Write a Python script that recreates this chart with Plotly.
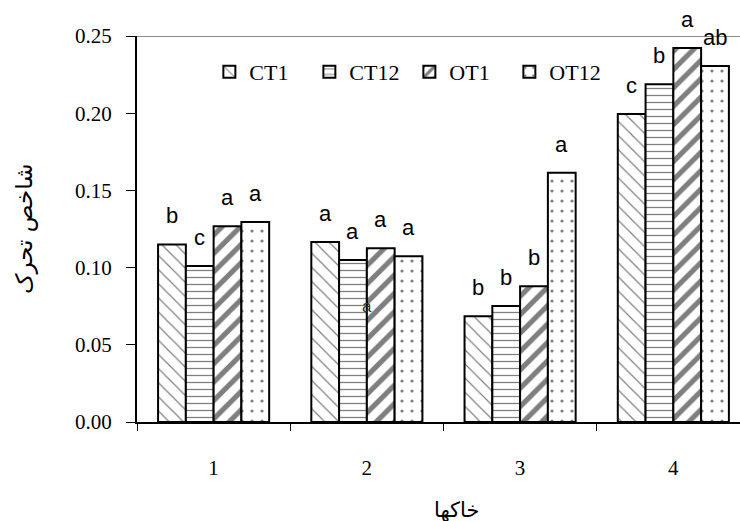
import plotly.graph_objects as go

soils = ["1", "2", "3", "4"]
series_names = ["CT1", "CT12", "OT1", "OT12"]
ct1 = [0.115, 0.1165, 0.0685, 0.1995]
ct12 = [0.101, 0.105, 0.0752, 0.2188]
ot1 = [0.1268, 0.1125, 0.088, 0.2422]
ot12 = [0.1296, 0.1073, 0.1615, 0.2305]
letters_ct1 = ["b", "a", "b", "c"]
letters_ct12 = ["c", "a", "b", "b"]
letters_ot1 = ["a", "a", "b", "a"]
letters_ot12 = ["a", "a", "a", "ab"]

values = [ct1, ct12, ot1, ot12]
letters = [letters_ct1, letters_ct12, letters_ot1, letters_ot12]
patterns = [
    dict(shape="\\", size=10, solidity=0.12, fgcolor="black", bgcolor="white"),
    dict(shape="-", size=7, solidity=0.18, fgcolor="black", bgcolor="white"),
    dict(shape="/", size=13, solidity=0.4, fgcolor="black", bgcolor="white"),
    dict(shape=".", size=10, solidity=0.08, fgcolor="black", bgcolor="white"),
]

x_pos = list(range(len(soils)))
bargap = 0.275
nser = len(series_names)
bw = (1 - bargap) / nser

SERIF = "Liberation Serif, Times New Roman, serif"
SANS = "Liberation Sans, Arial, sans-serif"

fig = go.Figure()
for k, name in enumerate(series_names):
    fig.add_trace(go.Bar(
        x=x_pos, y=values[k], name=name,
        marker=dict(color="white", line=dict(color="black", width=2), pattern=patterns[k]),
    ))

annotations = []
for k in range(nser):
    off = -(1 - bargap) / 2 + bw * (k + 0.5)
    for i in range(len(soils)):
        annotations.append(dict(
            x=x_pos[i] + off, y=values[k][i], xref="x", yref="y",
            text=letters[k][i], showarrow=False, yanchor="bottom", yshift=14,
            font=dict(family=SANS, size=22, color="black"),
        ))

# stray letter in the reference image
annotations.append(dict(x=1, y=0.0745, xref="x", yref="y", text="a", showarrow=False,
                        font=dict(family=SANS, size=17, color="#333")))

annotations.append(dict(
    x=0, y=0.5, xref="paper", yref="paper", text="شاخص تحرک", textangle=-90,
    showarrow=False, xanchor="center", yanchor="middle", xshift=-113, yshift=0,
    font=dict(family="DejaVu Serif, DejaVu Sans", size=23, color="black"),
))
annotations.append(dict(
    x=0.5, y=0, xref="paper", yref="paper", text="خاکها", showarrow=False,
    xanchor="center", yanchor="middle", yshift=-88, xshift=18,
    font=dict(family="DejaVu Serif, DejaVu Sans", size=21, color="black"),
))

fig.update_layout(
    width=740, height=521,
    margin=dict(l=137, r=0, t=36, b=99),
    paper_bgcolor="white", plot_bgcolor="white",
    barmode="group", bargap=bargap, bargroupgap=0,
    font=dict(family=SERIF, size=21, color="black"),
    showlegend=True,
    legend=dict(orientation="h", x=0.12, y=0.907, xanchor="left", yanchor="middle",
                bgcolor="rgba(0,0,0,0)", font=dict(family=SERIF, size=22), itemwidth=30,
                entrywidth=55, entrywidthmode="pixels"),
    annotations=annotations,
    shapes=[dict(type="line", xref="paper", yref="y", x0=0, x1=1, y0=0.25, y1=0.25,
                 line=dict(color="#8c8c8c", width=2), layer="below")],
)
fig.update_xaxes(
    range=[-0.5, 3.435], tickvals=x_pos, ticktext=soils, ticks="",
    showline=True, linecolor="black", linewidth=2, showgrid=False, zeroline=False,
    ticklabelstandoff=26, tickfont=dict(family=SERIF, size=21),
    minor=dict(tickmode="linear", tick0=0.5, dtick=1, ticks="outside", ticklen=7,
               tickcolor="black", tickwidth=1, showgrid=False),
)
fig.update_yaxes(
    range=[0, 0.25], dtick=0.05, tickformat=".2f", ticks="outside", ticklen=9,
    tickcolor="black", showline=True, linecolor="black", linewidth=2,
    showgrid=False, zeroline=False, ticklabelstandoff=10,
    tickfont=dict(family=SERIF, size=21),
)

fig.write_html("out.html")
